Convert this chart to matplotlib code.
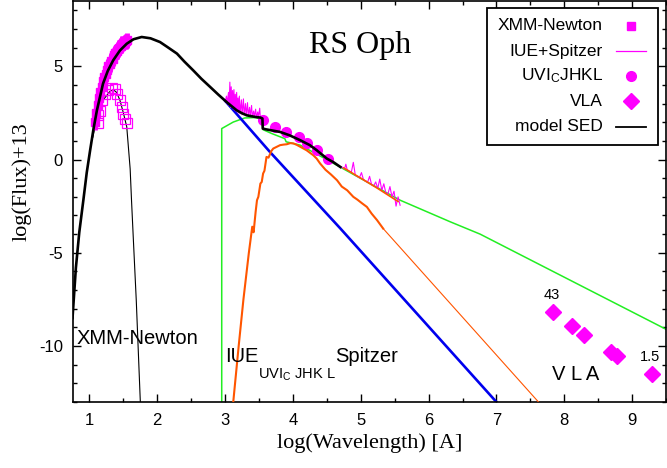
import matplotlib
matplotlib.use("Agg")
import matplotlib.pyplot as plt
from matplotlib.patches import Rectangle
from matplotlib.ticker import MultipleLocator

plt.rcParams['font.family'] = ['Liberation Sans', 'DejaVu Sans']
plt.rcParams['mathtext.default'] = 'regular'

MAG = '#ff00ff'

# ---------------- data ----------------
# model SED (thick black)
sed_x = [0.75, 0.80, 0.85, 0.91, 0.96, 1.01, 1.06, 1.11, 1.20, 1.27, 1.35, 1.45, 1.55, 1.65, 1.77,
         1.90, 2.04, 2.15, 2.29, 2.40, 2.53, 2.65, 2.78, 2.90, 3.02, 3.10, 3.17, 3.25, 3.32, 3.45,
         3.52, 3.55, 3.555, 3.60, 3.81, 3.95, 4.11, 4.25, 4.35, 4.50, 4.60, 4.70]
sed_y = [-8.5, -5.8, -3.9, -2.18, -0.7, 0.5, 1.65, 2.64, 4.07, 4.75, 5.32, 5.85, 6.21, 6.45, 6.57,
         6.50, 6.30, 6.03, 5.68, 5.25, 4.78, 4.33, 3.89, 3.48, 3.09, 2.85, 2.64, 2.48, 2.37, 2.28,
         2.25, 2.2, 1.66, 1.62, 1.48, 1.30, 1.03, 0.77, 0.50, 0.05, -0.15, -0.40]

# thin black component (soft X-ray)
xc_x = [1.05, 1.11, 1.20, 1.30, 1.35, 1.40, 1.45, 1.50, 1.55, 1.60, 1.62, 1.65, 1.69, 1.75]
xc_y = [1.2, 2.28, 3.18, 3.65, 3.75, 3.6, 3.17, 2.5, 1.75, -0.5, -2.18, -4.5, -7.54, -13.0]

# blue component
blue_x = [3.00, 3.66, 4.70, 7.00]
blue_y = [3.15, 0.41, -3.70, -13.0]

# green component
green_x = [2.95, 2.95, 3.12, 3.29, 3.45, 3.55, 3.56, 3.69, 3.88, 3.90, 4.11, 4.60, 5.58, 6.32, 6.76, 9.50]
green_y = [-13.0, 1.66, 2.01, 2.23, 2.25, 2.15, 1.60, 1.39, 1.12, 0.95, 0.77, -0.21, -2.18, -3.34, -4.0, -9.1]

# orange component (noisy part)
or_x = [3.12, 3.20, 3.27, 3.35, 3.40, 3.42, 3.45, 3.47, 3.49, 3.52, 3.54, 3.56, 3.58, 3.61, 3.64,
        3.68, 3.71, 3.76, 3.81, 3.86, 3.91, 3.96, 4.01, 4.06, 4.11, 4.20, 4.30, 4.35, 4.40, 4.48,
        4.56, 4.65, 4.72, 4.80, 4.89, 4.95, 5.02, 5.09, 5.16, 5.24, 5.33]
or_y = [-13.0, -10.0, -7.5, -5.0, -3.6, -3.9, -2.8, -2.18, -2.0, -1.29, -1.2, -0.75, -0.6, 0.14, 0.1,
        0.45, 0.59, 0.68, 0.77, 0.80, 0.82, 0.88, 0.86, 0.78, 0.68, 0.50, 0.23, 0.05, -0.21, -0.55,
        -0.80, -1.11, -1.45, -1.65, -2.0, -2.15, -2.35, -2.54, -2.90, -3.25, -3.70]
# orange tail
ort_x = [5.33, 7.62]
ort_y = [-3.70, -13.0]
# orange along Spitzer range
ors_x = [4.75, 5.00, 5.25, 5.55]
ors_y = [-0.45, -1.00, -1.55, -2.25]

# XMM-Newton filled points (with errors)
xmm_x = [1.08, 1.10, 1.12, 1.14, 1.16, 1.18, 1.20, 1.22, 1.24, 1.26, 1.28, 1.30, 1.32,
         1.34, 1.36, 1.38, 1.40, 1.42, 1.44, 1.46, 1.48, 1.50, 1.52, 1.54, 1.56]
xmm_y = [2.0, 2.5, 2.9, 3.3, 3.6, 3.9, 4.2, 4.4, 4.6, 4.8, 5.0, 5.1, 5.3,
         5.4, 5.6, 5.7, 5.8, 5.9, 6.0, 6.1, 6.2, 6.25, 6.3, 6.35, 6.4]
xmm_err = [0.4] * len(xmm_x)

# XMM-Newton open points (low state)
xmmo_x = [1.12, 1.13, 1.15, 1.18, 1.23, 1.28, 1.33, 1.38, 1.41, 1.45, 1.48, 1.50, 1.52, 1.55]
xmmo_y = [2.37, 1.96, 2.6, 3.18, 3.53, 3.71, 3.86, 3.80, 3.53, 3.18, 2.82, 2.46, 2.19, 1.96]

# IUE spectrum
iue_x = [3.00, 3.02, 3.03, 3.05, 3.06, 3.07, 3.08, 3.09, 3.10, 3.11, 3.12, 3.13, 3.14, 3.15, 3.16,
         3.17, 3.18, 3.19, 3.20, 3.21, 3.22, 3.24, 3.25, 3.27, 3.28, 3.30, 3.31, 3.33, 3.34, 3.36,
         3.37, 3.39, 3.40, 3.42, 3.43, 3.45, 3.46, 3.48, 3.49, 3.51, 3.52, 3.55]
iue_y = [3.1, 3.4, 3.0, 3.6, 2.9, 4.15, 2.8, 3.9, 2.8, 3.7, 2.7, 3.75, 2.65, 3.5, 2.6,
         3.6, 2.55, 3.3, 2.5, 3.4, 2.45, 3.2, 2.4, 3.25, 2.4, 3.0, 2.35, 3.05, 2.35, 2.8,
         2.3, 2.9, 2.3, 2.6, 2.28, 2.7, 2.25, 2.55, 2.25, 2.75, 2.22, 2.2]

# Spitzer spectrum
spz_x = [4.72, 4.76, 4.78, 4.80, 4.83, 4.86, 4.89, 4.92, 4.95, 4.98, 5.01, 5.04, 5.07, 5.10,
         5.13, 5.16, 5.19, 5.22, 5.25, 5.28, 5.31, 5.34, 5.37, 5.40, 5.43, 5.46, 5.49, 5.52, 5.55, 5.58]
spz_y = [-0.40, -0.50, -0.25, -0.55, -0.62, -0.70, -0.15, -0.85, -0.90, -0.98, -0.70, -1.08, -1.15, -1.22,
         -0.90, -1.35, -1.42, -1.20, -1.55, -1.05, -1.65, -1.30, -1.80, -1.85, -1.45, -2.00, -1.70, -2.50, -2.00, -2.45]

# UVIcJHKL photometry
phot_x = [3.56, 3.74, 3.90, 4.09, 4.21, 4.35, 4.52]
phot_y = [2.10, 1.75, 1.48, 1.21, 0.86, 0.50, 0.02]

# VLA radio
vla_x = [7.83, 8.11, 8.29, 8.69, 8.78, 9.30]
vla_y = [-8.20, -8.93, -9.43, -10.30, -10.54, -11.50]

xticks = [1, 2, 3, 4, 5, 6, 7, 8, 9]
yticks = [5, 0, -5, -10]

# ---------------- figure ----------------
fig = plt.figure(figsize=(6.67, 4.68), dpi=100)
ax = fig.add_axes([72.5 / 667, 66 / 468, 593.5 / 667, 401 / 468])
ax.set_xlim(0.75, 9.5)
ax.set_ylim(-13, 8.5)

ax.plot(green_x, green_y, color='#22ee22', lw=1.1, zorder=2)
ax.plot(blue_x, blue_y, color='#0000ee', lw=1.9, zorder=2)
ax.plot(ort_x, ort_y, color='#ff5500', lw=0.8, zorder=3)
ax.plot(or_x, or_y, color='#ff5500', lw=1.5, zorder=3)
ax.plot(xc_x, xc_y, color='black', lw=0.8, zorder=4)

ax.errorbar(xmm_x, xmm_y, yerr=xmm_err, fmt='s', color=MAG, ms=6, ecolor=MAG,
            elinewidth=3.5, capsize=0, zorder=5)
ax.plot(xmmo_x, xmmo_y, 's', mfc='none', mec=MAG, ms=7, mew=0.9, zorder=5)
ax.plot(iue_x, iue_y, color=MAG, lw=0.8, zorder=5)
ax.plot(spz_x, spz_y, color=MAG, lw=0.8, zorder=5)
ax.plot(ors_x, ors_y, color='#ff5500', lw=1.2, zorder=6)
ax.plot(phot_x, phot_y, 'o', color=MAG, ms=7, zorder=6)
ax.plot(vla_x, vla_y, 'D', color=MAG, ms=8.5, zorder=6)

ax.plot(sed_x, sed_y, color='black', lw=1.9, zorder=7)

# ticks
ax.xaxis.set_major_locator(MultipleLocator(1))
ax.xaxis.set_minor_locator(MultipleLocator(0.5))
ax.yaxis.set_major_locator(MultipleLocator(5))
ax.yaxis.set_minor_locator(MultipleLocator(1))
ax.set_xticks(xticks)
ax.set_xticklabels([str(t) for t in xticks])
ax.set_yticks(yticks)
ax.set_yticklabels([str(t) for t in yticks])
ax.tick_params(which='both', direction='in', top=True, right=True, width=1.0, labelsize=12)
ax.tick_params(which='major', length=6)
ax.tick_params(which='minor', length=3)
ax.tick_params(axis='x', pad=8)
ax.tick_params(axis='y', pad=7)
for s in ax.spines.values():
    s.set_linewidth(1.2)

ax.set_xlabel('log(Wavelength) [A]', family='Liberation Serif', fontsize=16, labelpad=4)
fig.text(22 / 667, 1 - 182 / 468, 'log(Flux)+13', family='Liberation Serif', fontsize=16,
         rotation=90, ha='center', va='center')

# annotations
ax.text(0.81, -9.59, 'XMM-Newton', fontsize=14.5, ha='left', va='center')
ax.text(3.0, -10.57, 'IUE', fontsize=14.5, ha='left', va='center')
ax.text(3.49, -11.55, 'UVI$_C$ JHK L', fontsize=10.5, ha='left', va='center')
ax.text(4.62, -10.57, 'Spitzer', fontsize=14.5, ha='left', va='center')
ax.text(7.82, -11.5, 'V L A', fontsize=14.5, ha='left', va='center')
ax.text(7.82, -7.27, '43', fontsize=10.5, ha='center', va='center')
ax.text(9.27, -10.6, '1.5', fontsize=10.5, ha='center', va='center')
ax.text(4.99, 6.12, 'RS Oph', family='Liberation Serif', fontsize=23, ha='center', va='center')

# legend (gnuplot style: right-aligned text, sample on the right)
T = ax.transAxes
ax.add_patch(Rectangle((0.698, 0.641), 0.288, 0.342, transform=T, fill=True, fc='white',
                       ec='black', lw=1.3, zorder=10))
rows = [0.938, 0.875, 0.813, 0.750, 0.687]
labels = ['XMM-Newton', 'IUE+Spitzer', 'UVI$_C$JHKL', 'VLA', 'model SED']
for yy, lab in zip(rows, labels):
    ax.text(0.894, yy, lab, transform=T, ha='right', va='center', fontsize=12.5, zorder=11)
mx = 0.941
ax.plot([mx], [rows[0]], 's', color=MAG, ms=6, transform=T, zorder=11, clip_on=False)
ax.plot([0.916, 0.966], [rows[1]] * 2, color=MAG, lw=0.9, transform=T, zorder=11)
ax.plot([mx], [rows[2]], 'o', color=MAG, ms=7, transform=T, zorder=11)
ax.plot([mx], [rows[3]], 'D', color=MAG, ms=8, transform=T, zorder=11)
ax.plot([0.916, 0.966], [rows[4]] * 2, color='black', lw=1.3, transform=T, zorder=11)

fig.savefig('out.png', dpi=100)
